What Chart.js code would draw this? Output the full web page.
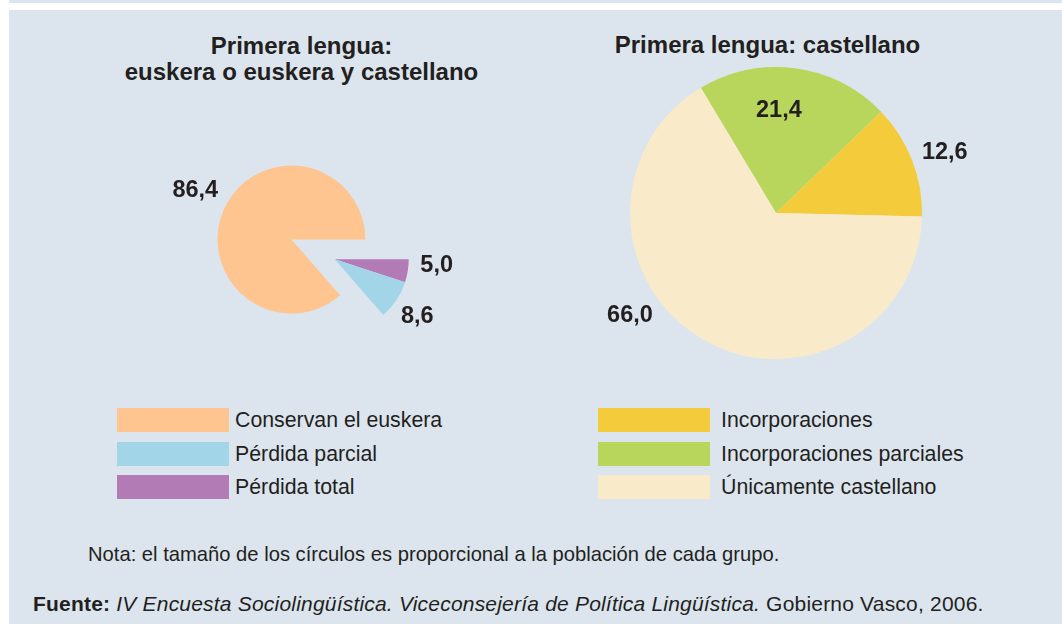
<!DOCTYPE html>
<html lang="es">
<head>
<meta charset="utf-8">
<title>Primera lengua</title>
<script src="https://cdn.jsdelivr.net/npm/chart.js@4.4.1/dist/chart.umd.min.js"></script>
<style>
  html, body { margin: 0; padding: 0; background: #fff; }
  body { width: 1062px; height: 624px; position: relative; overflow: hidden;
         font-family: "Liberation Sans", Arial, sans-serif; color: #231f20; }
  .strip { position: absolute; left: 9px; right: 0; top: 0; height: 3px; background: #dce5ed; }
  .panel { position: absolute; left: 9px; right: 0; top: 10px; bottom: 0; background: #dce5ed; }
  .title { position: absolute; font-weight: bold; font-size: 24px; line-height: 26px;
           text-align: center; white-space: nowrap; transform: translateX(-50%); }
  canvas { position: absolute; }
  .legend { position: absolute; }
  .legend .row { position: absolute; left: 0; height: 24px; display: flex; align-items: center;
                 white-space: nowrap; font-size: 21.3px; line-height: 24px; }
  .legend .sw { width: 112px; height: 24px; flex-shrink: 0; }
  .note { position: absolute; white-space: nowrap; }
</style>
</head>
<body>
<div class="strip"></div>
<div class="panel"></div>

<div class="title" style="left:301.5px;top:33px">Primera lengua:<br>euskera o euskera y castellano</div>
<div class="title" style="left:767.5px;top:32px">Primera lengua: castellano</div>

<canvas id="pie-euskera" width="361" height="261" style="left:111px;top:109px"></canvas>
<canvas id="pie-castellano" width="440" height="380" style="left:556px;top:23px"></canvas>

<div class="legend" id="legend-euskera" style="left:117px;top:408px"></div>
<div class="legend" id="legend-castellano" style="left:598px;top:408px"></div>

<div class="note" style="left:88px;top:544px;font-size:20.2px;line-height:20px">Nota: el tamaño de los círculos es proporcional a la población de cada grupo.</div>
<div class="note" style="left:33px;top:594px;font-size:21px;line-height:20px;letter-spacing:0.2px"><b>Fuente:</b> <i>IV Encuesta Sociolingüística. Viceconsejería de Política Lingüística.</i> Gobierno Vasco, 2006.</div>

<script>
'use strict';

// Primera lengua: euskera o euskera y castellano (%)
const euskeraLabels = ['Conservan el euskera', 'Pérdida parcial', 'Pérdida total'];
const euskeraValues = [86.4, 8.6, 5.0];
const euskeraColors = ['#fec590', '#a3d5e8', '#b37bb6'];

// Primera lengua: castellano (%)
const castellanoLabels = ['Incorporaciones', 'Incorporaciones parciales', 'Únicamente castellano'];
const castellanoValues = [12.6, 21.4, 66.0];
const castellanoColors = ['#f4cb3b', '#b8d65c', '#f9eaca'];

const TEXT = '#231f20';

function fmt(v) { return v.toFixed(1).replace('.', ','); }

// pie drawing order (clockwise) differs from legend order
function reorder(arr, order) { return order.map(i => arr[i]); }

// Moves the flagged slices outward together, along their common bisector
const explodePlugin = {
  id: 'explode',
  afterDatasetsUpdate(chart, args, opts) {
    if (!opts.indexes || !opts.indexes.length) return;
    const arcs = chart.getDatasetMeta(0).data;
    const sel = opts.indexes.map(i => arcs[i]);
    const start = Math.min(...sel.map(a => a.startAngle));
    const end = Math.max(...sel.map(a => a.endAngle));
    const mid = (start + end) / 2;
    sel.forEach(a => {
      a.x += Math.cos(mid) * opts.distance;
      a.y += Math.sin(mid) * opts.distance;
    });
  }
};

// Value labels placed relative to each slice (radius factor + angle tweak in degrees)
const valueLabelPlugin = {
  id: 'valueLabels',
  afterDatasetsDraw(chart, args, opts) {
    const {ctx} = chart;
    const meta = chart.getDatasetMeta(0);
    const values = chart.data.datasets[0].data;
    ctx.save();
    ctx.fillStyle = TEXT;
    ctx.font = 'bold 23.5px "Liberation Sans", Arial, sans-serif';
    ctx.textAlign = 'center';
    ctx.textBaseline = 'middle';
    meta.data.forEach((arc, i) => {
      const place = opts.place[i];
      const a = (arc.startAngle + arc.endAngle) / 2 + place.tweak * Math.PI / 180;
      const r = arc.outerRadius * place.f;
      ctx.fillText(fmt(values[i]), arc.x + Math.cos(a) * r, arc.y + Math.sin(a) * r);
    });
    ctx.restore();
  }
};

function makePie(id, values, colors, radius, rotation, extra) {
  return new Chart(document.getElementById(id), {
    type: 'pie',
    data: {
      datasets: [{
        data: values,
        backgroundColor: colors,
        borderWidth: 0,
      }]
    },
    options: {
      responsive: false,
      animation: false,
      events: [],
      radius,
      rotation,
      layout: { padding: 0 },
      plugins: Object.assign({ legend: { display: false }, tooltip: { enabled: false } }, extra),
    },
    plugins: [explodePlugin, valueLabelPlugin],
  });
}

function renderLegend(id, labels, colors, gap) {
  const el = document.getElementById(id);
  el.innerHTML = labels.map((l, i) => `
    <div class="row" style="top:${(i * 33.5).toFixed(1)}px">
      <span class="sw" style="background:${colors[i]};margin-right:${gap}px"></span><span>${l}</span>
    </div>`).join('');
}

document.addEventListener('DOMContentLoaded', () => {
  // euskera: clockwise order = conservan, total, parcial
  const eOrder = [0, 2, 1];
  makePie('pie-euskera', reorder(euskeraValues, eOrder), reorder(euskeraColors, eOrder), 74, 139, {
    explode: { indexes: [1, 2], distance: 47.5 },
    valueLabels: { place: [{ f: 1.456, tweak: 2.25 }, { f: 1.38, tweak: -5.75 }, { f: 1.357, tweak: 1.1 }] },
  });

  // castellano: clockwise order = parciales, incorporaciones, únicamente
  const cOrder = [1, 0, 2];
  makePie('pie-castellano', reorder(castellanoValues, cOrder), reorder(castellanoColors, cOrder), 146, -31, {
    explode: { indexes: [] },
    valueLabels: { place: [{ f: 0.702, tweak: -5.9 }, { f: 1.228, tweak: 1.55 }, { f: 1.224, tweak: 24.6 }] },
  });

  renderLegend('legend-euskera', euskeraLabels, euskeraColors, 6);
  renderLegend('legend-castellano', castellanoLabels, castellanoColors, 11);
});
</script>
</body>
</html>
